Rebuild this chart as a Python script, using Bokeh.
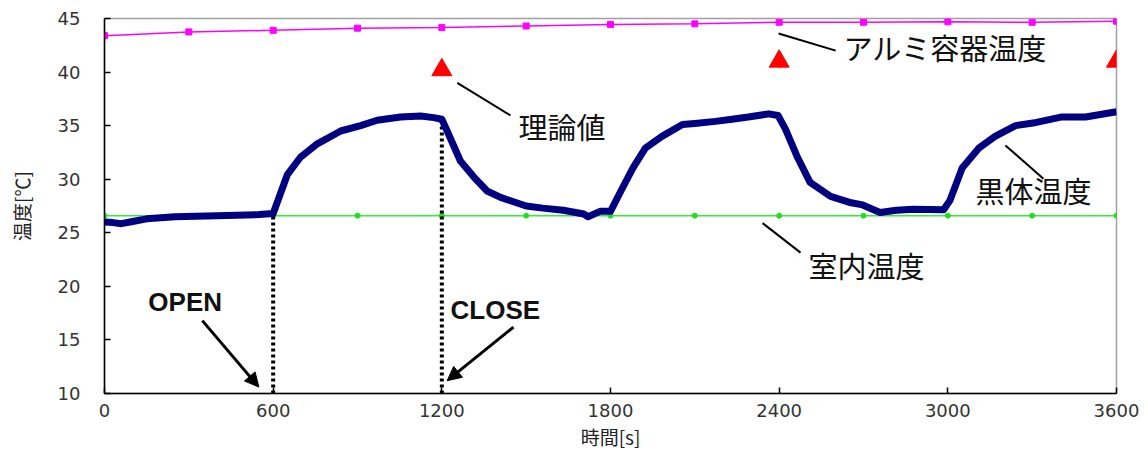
from bokeh.plotting import figure
from bokeh.models import FixedTicker, Label, Arrow, NormalHead, Range1d
from bokeh.embed import file_html
from bokeh.resources import INLINE
import numpy as np

# ---- data ----
marker_t = [0, 300, 600, 900, 1200, 1500, 1800, 2100, 2400, 2700, 3000, 3300, 3600]
alumi_T = [43.4, 43.75, 43.9, 44.1, 44.15, 44.3, 44.45, 44.5, 44.65, 44.65, 44.7, 44.65, 44.75]
room_T = [26.6, 26.6, 26.6, 26.6, 26.6, 26.6, 26.6, 26.6, 26.6, 26.6, 26.6, 26.6, 26.6]

theory_t = [1200, 2400, 3600]
theory_T = [40.2, 41.0, 41.0]

black_t = [0, 30, 60, 100, 150, 250, 400, 550, 600, 625, 650, 697, 757, 840, 911, 970, 1053,
           1124, 1171, 1200, 1219, 1266, 1314, 1361, 1409, 1500, 1559, 1632, 1705, 1720,
           1763, 1800, 1837, 1880, 1924, 1983, 2056, 2100, 2173, 2232, 2290, 2363, 2396,
           2422, 2466, 2510, 2583, 2656, 2697, 2759, 2817, 2876, 2985, 3007, 3051, 3110,
           3168, 3241, 3315, 3402, 3490, 3600]
black_T = [26.0, 25.95, 25.85, 26.05, 26.3, 26.5, 26.6, 26.7, 26.8, 28.6, 30.4, 32.05, 33.3, 34.5,
           35.0, 35.5, 35.8, 35.9, 35.75, 35.6, 34.5, 31.7, 30.2, 28.9, 28.3, 27.5, 27.3,
           27.1, 26.75, 26.5, 27.0, 27.0, 28.9, 31.05, 32.9, 34.0, 35.1, 35.2, 35.4, 35.6,
           35.8, 36.1, 35.95, 34.7, 32.0, 29.7, 28.4, 27.8, 27.6, 26.9, 27.1, 27.2, 27.15,
           28.0, 31.05, 32.9, 34.0, 35.0, 35.3, 35.8, 35.8, 36.3]

open_t = 600
close_t = 1200

x_ticks = [0, 600, 1200, 1800, 2400, 3000, 3600]
y_ticks = [10, 15, 20, 25, 30, 35, 40, 45]

JP = "Noto Sans CJK JP"

p = figure(frame_width=1012, frame_height=375, output_backend="svg", toolbar_location=None,
           x_range=Range1d(0, 3600), y_range=Range1d(10, 45),
           min_border_left=104, min_border_right=24, min_border_top=18, min_border_bottom=54)
p.background_fill_color = "white"
p.border_fill_color = "white"
p.outline_line_color = "#a0a0a0"
p.outline_line_width = 1.5
p.xgrid.visible = False
p.ygrid.visible = False

for ax in (p.xaxis[0], p.yaxis[0]):
    ax.axis_line_color = "black"
    ax.axis_line_width = 1.5
    ax.major_tick_in = 6
    ax.major_tick_out = 0
    ax.major_tick_line_color = "black"
    ax.major_tick_line_width = 1.5
    ax.minor_tick_line_color = None
    ax.major_label_text_font = "DejaVu Sans"
    ax.major_label_text_font_size = "18px"
    ax.major_label_text_color = "#333333"
    ax.axis_label_text_font = JP
    ax.axis_label_text_font_size = "19px"
    ax.axis_label_text_font_style = "normal"
    ax.axis_label_text_color = "#222222"

p.xaxis.ticker = FixedTicker(ticks=x_ticks)
p.yaxis.ticker = FixedTicker(ticks=y_ticks)
p.xaxis.major_label_standoff = 10
p.yaxis.major_label_standoff = 24
p.xaxis.axis_label = "時間[s]"
p.yaxis.axis_label = "温度[℃]"
p.xaxis.axis_label_standoff = 3
p.yaxis.axis_label_standoff = 20

# room temperature
p.line(marker_t, room_T, line_color="#33ee33", line_width=1.5)
p.scatter(marker_t, room_T, marker="circle", size=5, fill_color="#22dd22", line_color="#22dd22")

# dotted OPEN / CLOSE lines
open_top = float(np.interp(open_t, black_t, black_T))
close_top = float(np.interp(close_t, black_t, black_T))
p.line([open_t, open_t], [10, open_top], line_color="black", line_width=4, line_dash="3 3")
p.line([close_t, close_t], [10, close_top], line_color="black", line_width=4, line_dash="3 3")

# black body
p.line(black_t, black_T, line_color="#000080", line_width=7, line_join="round")

# aluminum container
p.line(marker_t, alumi_T, line_color="#ff00ff", line_width=1.5)
p.scatter(marker_t, alumi_T, marker="square", size=6, fill_color="#ff00ff", line_color="#ff00ff")

# theory
p.scatter(theory_t, theory_T, marker="triangle", size=20, fill_color="#ff0000", line_color="#ff0000")

# leader lines
leaders = [
    ((2398, 43.6), (2601, 42.0)),
    ((1255, 39.0), (1444, 35.95)),
    ((3205, 33.15), (3340, 30.05)),
    ((2341, 25.9), (2476, 23.15)),
]
for (x0, y0), (x1, y1) in leaders:
    p.line([x0, x1], [y0, y1], line_color="black", line_width=2)

labels = [
    ("アルミ容器温度", 2629, 42.3),
    ("理論値", 1473, 35.0),
    ("黒体温度", 3098, 28.95),
    ("室内温度", 2504, 21.95),
]
for txt, x, y in labels:
    p.add_layout(Label(x=x, y=y, text=txt, text_font=JP, text_font_size="29px",
                       text_baseline="middle", text_align="left", text_color="#111111"))

for txt, x, y in [("OPEN", 156, 18.5), ("CLOSE", 1231, 17.75)]:
    p.add_layout(Label(x=x, y=y, text=txt, text_font="Liberation Sans", text_font_size="26px",
                       text_font_style="bold", text_baseline="middle", text_align="left",
                       text_color="#111111"))

p.add_layout(Arrow(end=NormalHead(size=14, fill_color="black", line_color="black"),
                   x_start=348, y_start=16.8, x_end=549, y_end=10.6,
                   line_width=3, line_color="black"))
p.add_layout(Arrow(end=NormalHead(size=14, fill_color="black", line_color="black"),
                   x_start=1455, y_start=16.2, x_end=1219, y_end=11.2,
                   line_width=3, line_color="black"))

open("out.html", "w").write(file_html(p, INLINE))
